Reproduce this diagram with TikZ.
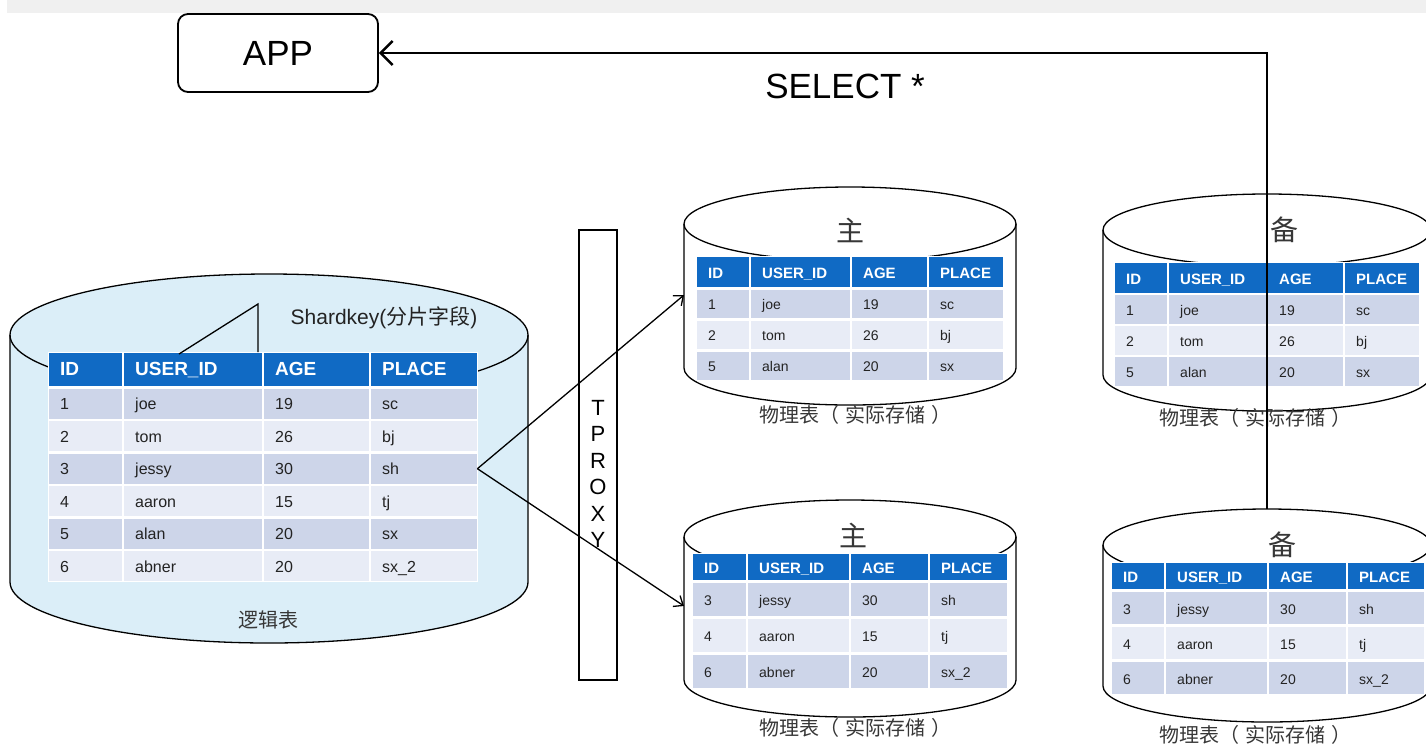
\documentclass[tikz,border=0pt]{standalone}
\usepackage{fontspec}
\setmainfont{Liberation Sans}
\newfontfamily\cjk{Noto Sans CJK SC}
\usetikzlibrary{matrix,arrows.meta,positioning}

\definecolor{hdblue}{RGB}{16,106,196}
\definecolor{rowdark}{RGB}{205,213,233}
\definecolor{rowlight}{RGB}{232,236,246}
\definecolor{cylblue}{RGB}{219,238,248}
\definecolor{txtgray}{RGB}{35,35,35}
\definecolor{lblgray}{RGB}{55,55,55}

% cylinder: centre x, top y, bottom y, x radius, y radius, fill
\newcommand{\dbcyl}[6]{%
  \fill[#6] ({#1-#4},#2) -- ({#1-#4},#3) arc[start angle=180,end angle=360,x radius=#4pt,y radius=#5pt] -- ({#1+#4},#2) -- cycle;
  \fill[#6] (#1,#2) ellipse [x radius=#4pt,y radius=#5pt];
  \draw[cylline] ({#1-#4},#2) -- ({#1-#4},#3) arc[start angle=180,end angle=360,x radius=#4pt,y radius=#5pt] -- ({#1+#4},#2);
  \draw[cylline] (#1,#2) ellipse [x radius=#4pt,y radius=#5pt];
}
\newcommand{\phystext}{物理表（\hspace{6pt}实际存储\hspace{6pt}）}

\tikzset{
  cylline/.style={draw=black,line width=1.3pt},
  dbtab/.style n args={4}{matrix of nodes,inner sep=1pt,fill=white,anchor=north west,
    column sep=2pt,
    nodes={fill=rowdark,text=txtgray,inner xsep=11pt,inner ysep=0pt,text height=13pt,text depth=1pt,
      align=left,anchor=center,minimum height=#4,font=\fontsize{#2}{#2}\selectfont},
    row 1/.style={nodes={fill=hdblue,text=white,minimum height=#3,font=\fontsize{#1}{#1}\bfseries\selectfont}},
    row 3/.style={nodes={fill=rowlight}},
    row 5/.style={nodes={fill=rowlight}},
    row 7/.style={nodes={fill=rowlight}}},
  colw/.style n args={4}{column 1/.style={nodes={text width=#1}},column 2/.style={nodes={text width=#2}},
    column 3/.style={nodes={text width=#3}},column 4/.style={nodes={text width=#4}}},
  cjklbl/.style={text=lblgray,font=\cjk\fontsize{20}{24}\selectfont,inner sep=0pt},
  cjkhead/.style={text=lblgray,font=\cjk\fontsize{28}{30}\selectfont,inner sep=0pt},
  linkline/.style={line width=1.3pt,-{Straight Barb[length=8pt,width=13pt]}},
}

\begin{document}
\begin{tikzpicture}[x=1pt,y=-1pt]
\useasboundingbox (0,0) rectangle (1426,753);
\clip (0,0) rectangle (1426,753);
\fill[black!6] (7,0) rectangle (1426,13);

% app and query
\node[draw,line width=1.8pt,rounded corners=10pt,minimum width=200pt,minimum height=78pt,
  font=\fontsize{35}{40}\selectfont] (app) at (278,53) {APP};
\node[font=\fontsize{35}{40}\selectfont] (select) at (845,86) {SELECT *};

% logical table
\dbcyl{269}{335}{582}{259}{61}{cylblue}
\matrix (lt) [dbtab={19}{16}{33pt}{30pt},colw={51pt}{116pt}{83pt}{84pt},row sep=2.5pt] at (48,352) {
ID & USER\_ID & AGE & PLACE \\
1 & joe & 19 & sc \\
2 & tom & 26 & bj \\
3 & jessy & 30 & sh \\
4 & aaron & 15 & tj \\
5 & alan & 20 & sx \\
6 & abner & 20 & sx\_2 \\
};
\coordinate (sk1) at (179,354);
\coordinate (sk2) at (258,304);
\coordinate (sk3) at (258,352);
\draw[line width=1.3pt] (sk1) -- (sk2) -- (sk3);
\node[font=\fontsize{21}{24}\selectfont,text=txtgray] (shard) at (384,318) {Shardkey({\cjk 分片字段})};
\node[cjklbl] (lbl0) at (268,620) {逻辑表};

% proxy
\node[draw,fill=white,line width=1.3pt,minimum width=38pt,minimum height=450pt,inner sep=0pt] (proxy) at (598,455) {};
\node[align=center,font=\fontsize{22}{26.4}\selectfont,inner sep=0pt] (proxytxt) at (598,474) {T\\P\\R\\O\\X\\Y};

% master 1
\dbcyl{850}{224}{368}{166}{37}{white}
\node[cjkhead] (zhu1) at (850,230) {主};
\matrix (m1) [dbtab={15}{14}{30pt}{28.5pt},colw={30pt}{77pt}{53pt}{52pt},row sep=2.5pt] at (696,256) {
ID & USER\_ID & AGE & PLACE \\
1 & joe & 19 & sc \\
2 & tom & 26 & bj \\
5 & alan & 20 & sx \\
};
\node[cjklbl] (lbl1) at (855,415) {\phystext};

% master 2
\dbcyl{850}{537}{680}{166}{37}{white}
\node[cjkhead] (zhu2) at (853,535) {主};
\matrix (m2) [dbtab={15}{14}{26pt}{33pt},colw={31pt}{79pt}{55pt}{55pt},row sep=3pt] at (692,553) {
ID & USER\_ID & AGE & PLACE \\
3 & jessy & 30 & sh \\
4 & aaron & 15 & tj \\
6 & abner & 20 & sx\_2 \\
};
\node[cjklbl] (lbl2) at (855,728) {\phystext};

% slave 1
\dbcyl{1267}{230}{375}{164}{36}{white}
\node[cjkhead] (bei1) at (1284,230) {备};
\matrix (s1) [dbtab={15}{14}{30pt}{29pt},colw={30pt}{75pt}{53pt}{52pt},row sep=2pt] at (1114,262) {
ID & USER\_ID & AGE & PLACE \\
1 & joe & 19 & sc \\
2 & tom & 26 & bj \\
5 & alan & 20 & sx \\
};
\node[cjklbl] (lbl3) at (1255,418) {\phystext};

% slave 2
\dbcyl{1267}{545}{686}{164}{36}{white}
\node[cjkhead] (bei2) at (1282,545) {备};
\matrix (s2) [dbtab={15}{14}{26pt}{32pt},colw={30pt}{79pt}{55pt}{54pt},row sep=3pt] at (1111,562) {
ID & USER\_ID & AGE & PLACE \\
3 & jessy & 30 & sh \\
4 & aaron & 15 & tj \\
6 & abner & 20 & sx\_2 \\
};
\node[cjklbl] (lbl4) at (1255,735) {\phystext};

% routing
\coordinate (m1in) at (684,295);
\coordinate (m2in) at (684,606);
\draw[linkline] (lt-4-4.east) -- (m1in);
\draw[linkline] (lt-4-4.east) -- (m2in);

\coordinate (s2top) at (1267,509);
\draw[line width=2.5pt,-{Straight Barb[length=12pt,width=24pt]}] (s2top) |- (app.east);
\end{tikzpicture}
\end{document}
